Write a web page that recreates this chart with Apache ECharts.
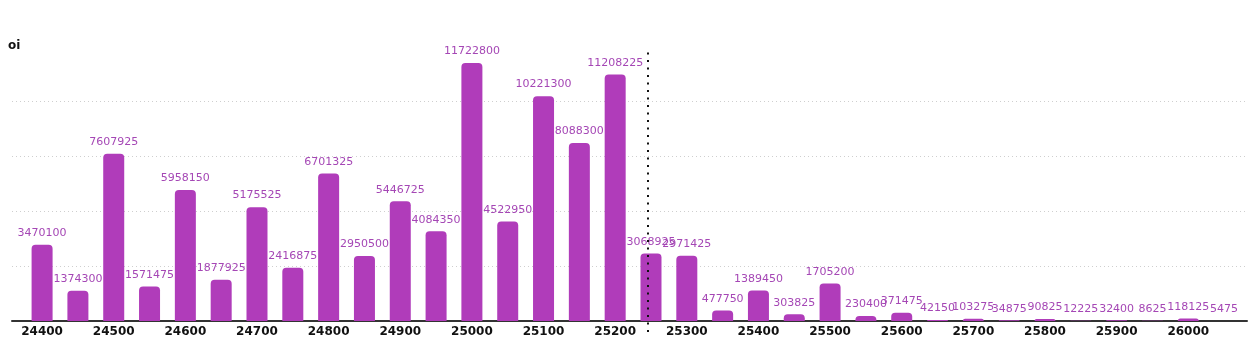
<!DOCTYPE html>
<html>
<head>
<meta charset="utf-8">
<title>Open interest by strike</title>
<script src="https://cdn.jsdelivr.net/npm/echarts@6/dist/echarts.min.js"></script>
<style>
  html, body { margin: 0; padding: 0; background: #fff; }
  #chart { width: 1248px; height: 339px; }
</style>
</head>
<body>
<div id="chart"></div>
<script>
// Strike prices (step 50) and open interest at each strike
const strikes = [
  24400, 24450, 24500, 24550, 24600, 24650, 24700, 24750, 24800, 24850,
  24900, 24950, 25000, 25050, 25100, 25150, 25200, 25250, 25300, 25350,
  25400, 25450, 25500, 25550, 25600, 25650, 25700, 25750, 25800, 25850,
  25900, 25950, 26000, 26050
];
const openInterest = [
  3470100, 1374300, 7607925, 1571475, 5958150, 1877925, 5175525, 2416875, 6701325, 2950500,
  5446725, 4084350, 11722800, 4522950, 10221300, 8088300, 11208225, 3068925, 2971425, 477750,
  1389450, 303825, 1705200, 230400, 371475, 42150, 103275, 34875, 90825, 12225,
  32400, 8625, 118125, 5475
];
// Strikes shown on the axis
const strikeTicks = [
  24400, 24500, 24600, 24700, 24800, 24900, 25000, 25100, 25200,
  25300, 25400, 25500, 25600, 25700, 25800, 25900, 26000
];
// Underlying spot level marked with the dotted vertical line
const spotPrice = 25246;

const strikeMin = 24358;
const strikeMax = 26082;

const barData = strikes.map((s, i) => [s, openInterest[i]]);

const chart = echarts.init(document.getElementById('chart'), null, { renderer: 'canvas' });

chart.setOption({
  animation: false,
  backgroundColor: '#ffffff',
  textStyle: { fontFamily: 'DejaVu Sans' },
  grid: [
    { left: 12, right: 1, top: 46, bottom: 18, containLabel: false },
    { left: 12, right: 1, top: 49, bottom: 7, containLabel: false }
  ],
  xAxis: [
    {
      type: 'value',
      gridIndex: 0,
      min: strikeMin,
      max: strikeMax,
      splitLine: { show: false },
      axisTick: { show: false },
      axisLine: { show: true, onZero: true, lineStyle: { color: '#333', width: 2 } },
      axisLabel: {
        customValues: strikeTicks,
        color: '#111',
        fontWeight: 'bold',
        fontSize: 12,
        margin: 5,
        formatter: v => String(v)
      }
    },
    {
      type: 'value',
      gridIndex: 1,
      min: strikeMin,
      max: strikeMax,
      show: false
    }
  ],
  yAxis: [
    {
      type: 'value',
      gridIndex: 0,
      min: 0,
      max: 12500000,
      interval: 2500000,
      name: 'oi',
      nameLocation: 'end',
      nameGap: 0,
      nameTextStyle: {
        color: '#111',
        fontWeight: 'bold',
        fontSize: 12,
        align: 'left',
        verticalAlign: 'middle',
        padding: [0, 0, 0, -4]
      },
      axisLine: { show: false },
      axisTick: { show: false },
      axisLabel: { show: false },
      splitLine: {
        show: true,
        showMinLine: false,
        showMaxLine: false,
        lineStyle: { color: '#cfcfcf', width: 1, type: [1, 3] }
      }
    },
    {
      type: 'value',
      gridIndex: 1,
      min: 0,
      max: 1,
      show: false
    }
  ],
  series: [
    {
      type: 'bar',
      xAxisIndex: 0,
      yAxisIndex: 0,
      data: barData,
      barWidth: 21,
      itemStyle: { color: '#b03cba', borderRadius: [4, 4, 0, 0] },
      label: {
        show: true,
        position: 'top',
        distance: 6,
        color: '#a547b5',
        fontSize: 11,
        formatter: p => String(p.value[1])
      }
    },
    {
      type: 'scatter',
      xAxisIndex: 1,
      yAxisIndex: 1,
      data: [],
      symbolSize: 0,
      silent: true,
      markLine: {
        silent: true,
        symbol: ['none', 'none'],
        label: { show: false },
        lineStyle: { color: '#111', width: 2, type: [2, 5.5] },
        data: [{ xAxis: spotPrice }]
      }
    }
  ]
});
</script>
</body>
</html>
